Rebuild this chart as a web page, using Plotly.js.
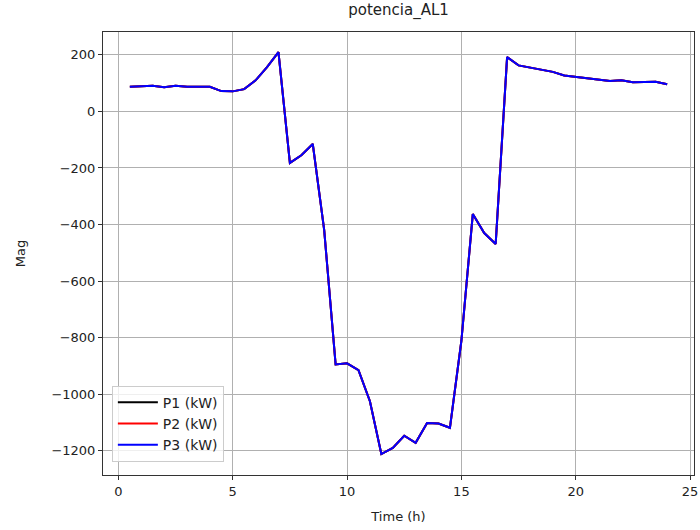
<!DOCTYPE html>
<html>
<head>
<meta charset="utf-8">
<script src="https://cdn.plot.ly/plotly-3.0.1.min.js"></script>
<style>html,body{margin:0;padding:0;background:#fff;}#chart{width:700px;height:530px;}</style>
</head>
<body>
<div id="chart"></div>
<script>
const timeH = [0.5,1.0,1.5,2.0,2.5,3.0,3.5,4.0,4.5,5.0,5.5,6.0,6.5,7.0,7.5,8.0,8.5,9.0,9.5,10.0,10.5,11.0,11.5,12.0,12.5,13.0,13.5,14.0,14.5,15.0,15.5,16.0,16.5,17.0,17.5,18.0,18.5,19.0,19.5,20.0,20.5,21.0,21.5,22.0,22.5,23.0,23.5,24.0];
const p3 = [87,88,91,86,91,87,87,87,72,71,79,110,157,210,-182,-155,-115,-420,-895,-891,-915,-1025,-1212,-1190,-1147,-1172,-1102,-1104,-1119,-812,-363,-430,-469,192,163,155,148,140,127,122,118,114,108,110,103,104,105,96];
const p1 = p3.slice();
const p2 = p3.slice();
const seriesNames = ["P1 (kW)","P2 (kW)","P3 (kW)"];
const seriesColors = ["black","red","blue"];
const yTicks = [-1200,-1000,-800,-600,-400,-200,0,200];
const xTicks = [0,5,10,15,20,25];

const font = "DejaVu Sans, sans-serif";
const traces = [p1,p2,p3].map((ys,i)=>({
  x: timeH, y: ys, type:"scatter", mode:"lines", name: seriesNames[i],
  line:{color:seriesColors[i], width:2}
}));

const layout = {
  width:700, height:530,
  margin:{l:103,r:6,t:32,b:55},
  paper_bgcolor:"white", plot_bgcolor:"white",
  font:{family:font, size:13, color:"#222"},
  title:{text:"potencia_AL1", font:{family:font,size:15,color:"#222"}, x:0.5, xref:"paper", y:0.992, yanchor:"top"},
  showlegend:true,
  legend:{x:0.015, y:0.03, xanchor:"left", yanchor:"bottom", bgcolor:"rgba(255,255,255,0.8)", bordercolor:"#cccccc", borderwidth:1,
    font:{family:font,size:14,color:"#222"}, tracegroupgap:0, itemwidth:40},
  xaxis:{range:[-0.675,25.175], tickvals:xTicks, ticks:"outside", ticklen:4, tickcolor:"#333",
    showgrid:true, gridcolor:"#b0b0b0", gridwidth:1, zeroline:false, showline:true, linecolor:"#333", linewidth:1, mirror:true,
    title:{text:"Time (h)", font:{family:font,size:13,color:"#222"}, standoff:14}},
  yaxis:{range:[-1286,281], tickvals:yTicks, ticks:"outside", ticklen:4, tickcolor:"#333",
    showgrid:true, gridcolor:"#b0b0b0", gridwidth:1, zeroline:false, showline:true, linecolor:"#333", linewidth:1, mirror:true,
    title:{text:"Mag", font:{family:font,size:13,color:"#222"}, standoff:22}}
};
Plotly.newPlot("chart", traces, layout, {displayModeBar:false, staticPlot:true});
</script>
</body>
</html>
